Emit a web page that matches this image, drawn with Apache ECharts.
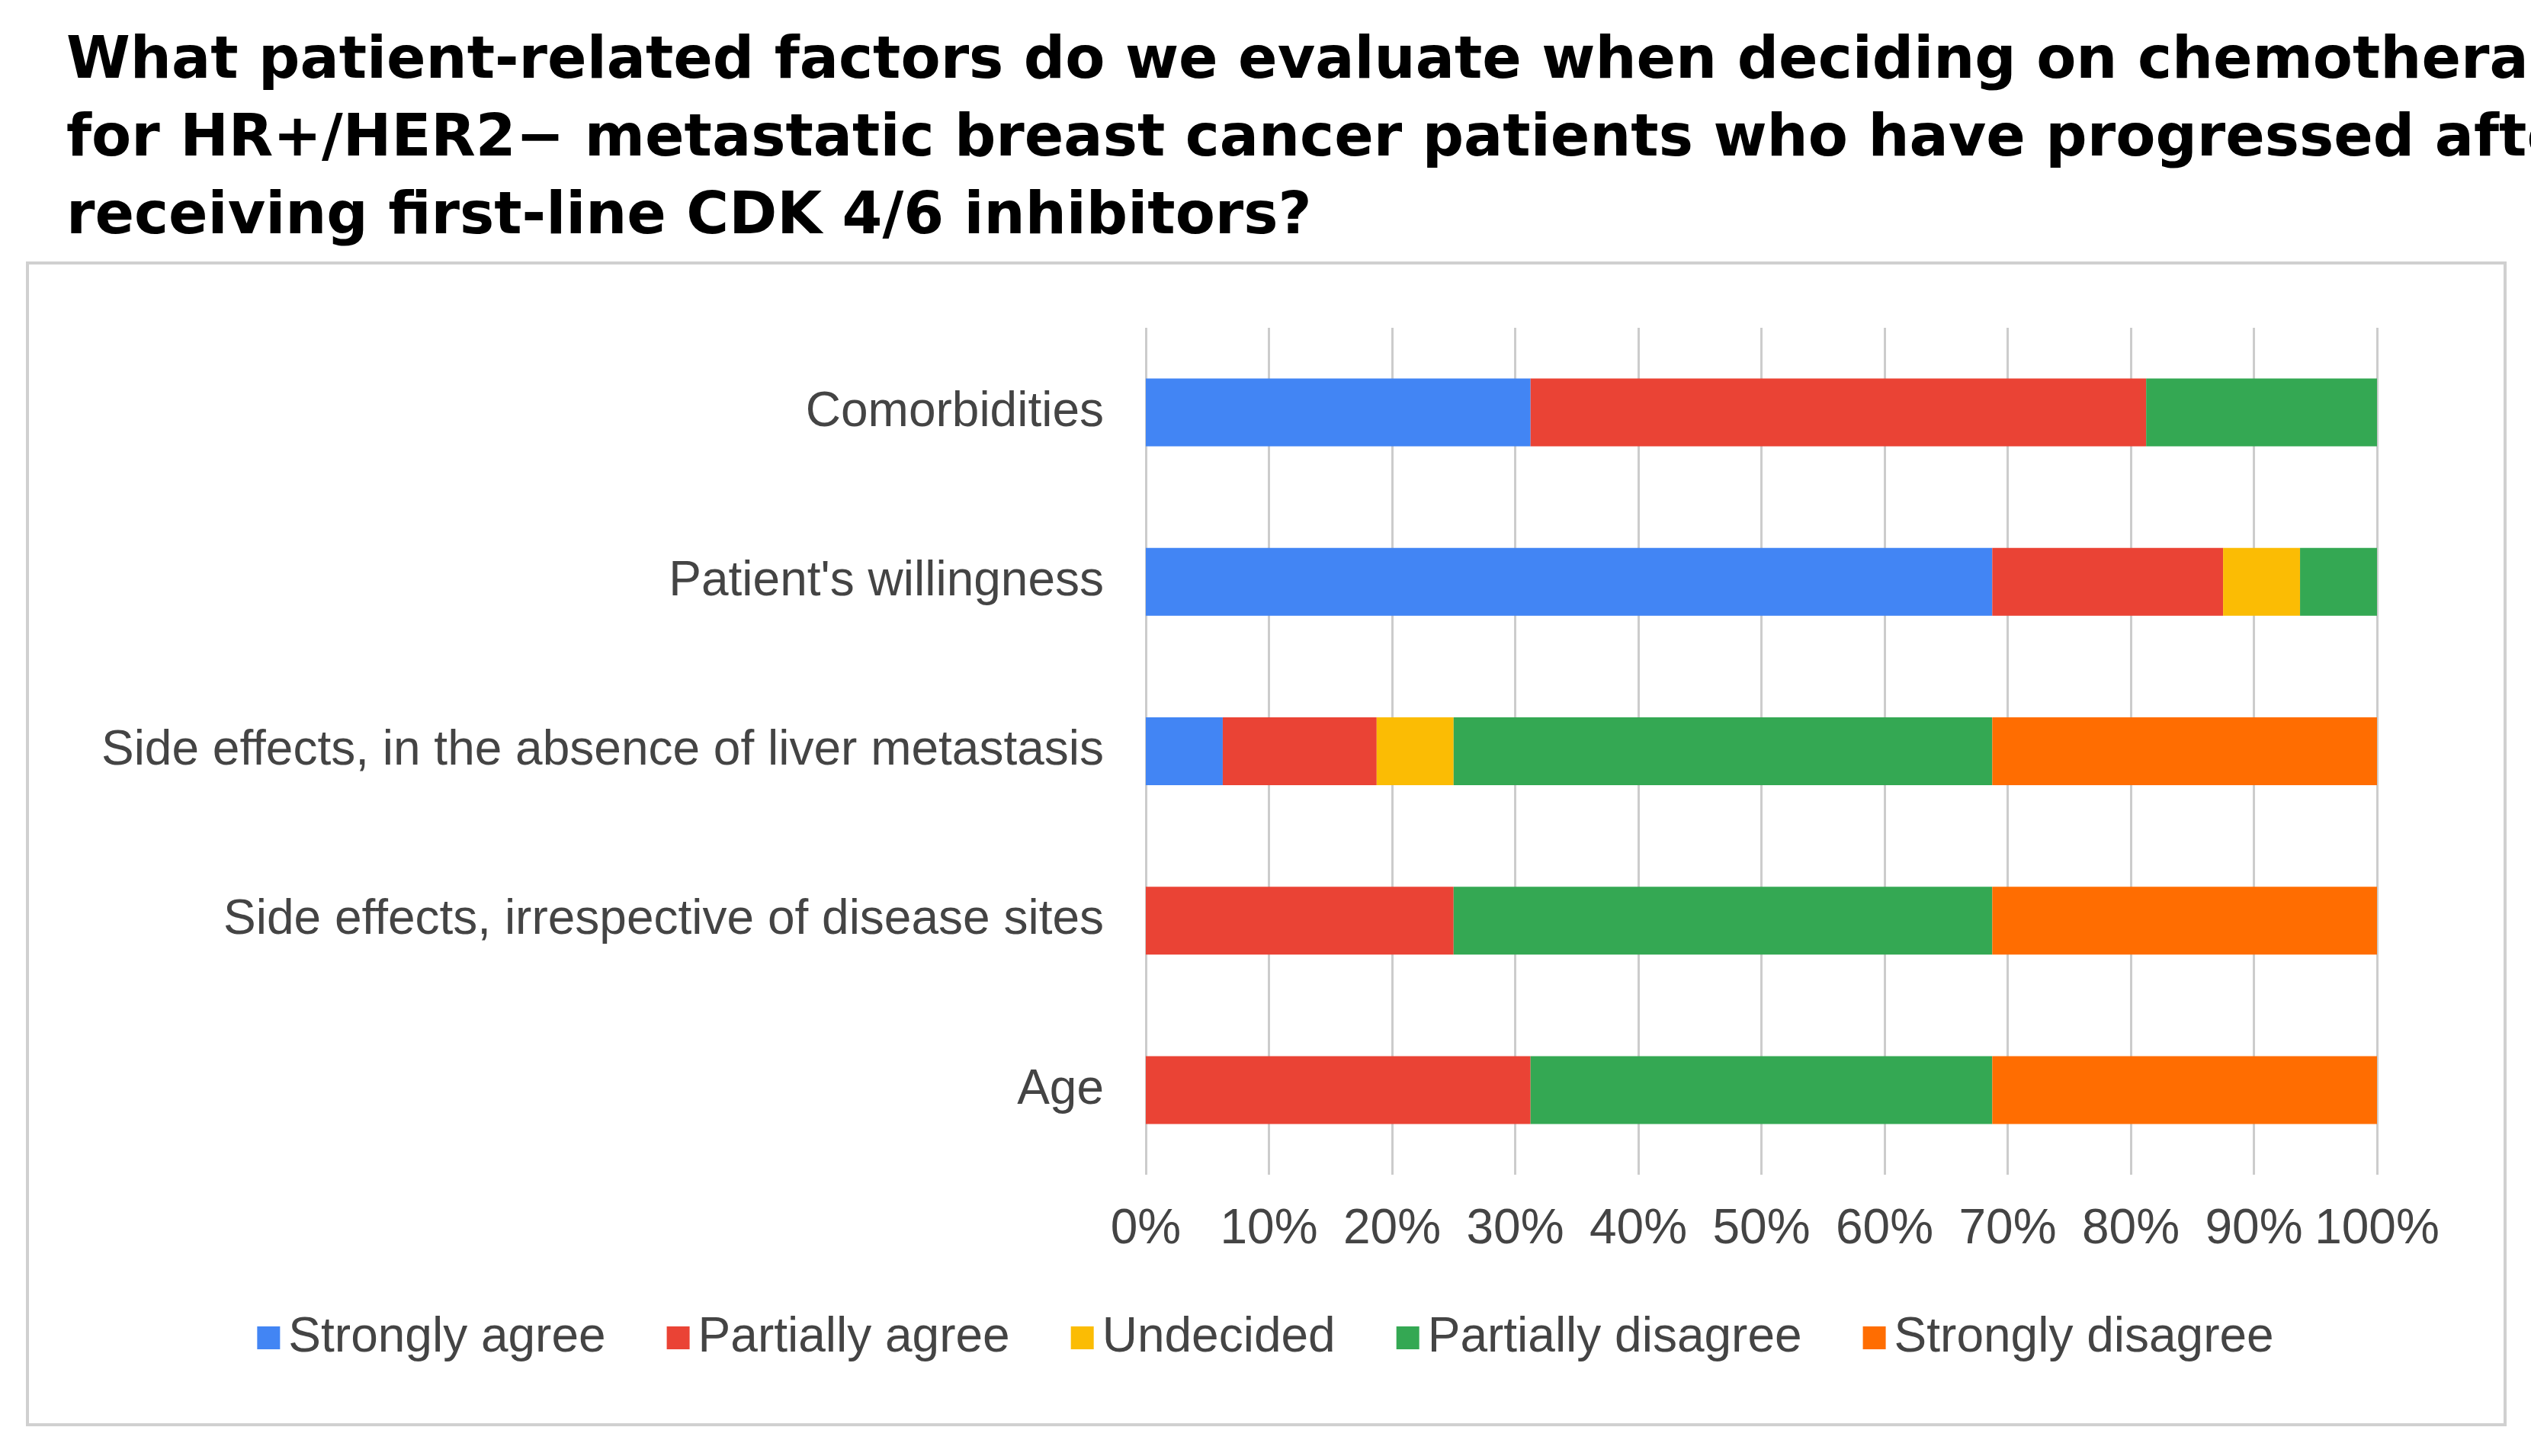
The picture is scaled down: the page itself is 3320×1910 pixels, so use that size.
<!DOCTYPE html>
<html><head><meta charset="utf-8">
<script src="https://cdn.jsdelivr.net/npm/echarts@6/dist/echarts.min.js"></script>
<style>html,body{margin:0;padding:0;background:#fff}#c{width:3320px;height:1910px}</style>
</head><body><div id="c"></div>
<script>
var categories = ['Comorbidities', "Patient's willingness", 'Side effects, in the absence of liver metastasis', 'Side effects, irrespective of disease sites', 'Age'];
var seriesNames = ['Strongly agree', 'Partially agree', 'Undecided', 'Partially disagree', 'Strongly disagree'];
var stronglyAgree = [31.25, 68.75, 6.25, 0, 0];
var partiallyAgree = [50, 18.75, 12.5, 25, 31.25];
var undecided = [0, 6.25, 6.25, 0, 0];
var partiallyDisagree = [18.75, 6.25, 43.75, 43.75, 37.5];
var stronglyDisagree = [0, 0, 31.25, 31.25, 31.25];
var colors = ['#4285F4', '#EA4335', '#FBBC04', '#34A853', '#FF6D01'];
var values = [stronglyAgree, partiallyAgree, undecided, partiallyDisagree, stronglyDisagree];

var chart = echarts.init(document.getElementById('c'));
chart.setOption({
    color: colors,
    animation: false,
    title: {
        text: 'What patient-related factors do we evaluate when deciding on chemotherapy\nfor HR+/HER2\u2212 metastatic breast cancer patients who have progressed after\nreceiving first-line CDK 4/6 inhibitors?',
        left: 82, top: 26,
        textStyle: {fontFamily: 'DejaVu Sans', fontWeight: 'bold', fontSize: 76, lineHeight: 102, color: '#000'}
    },
    graphic: [{
        type: 'rect', shape: {x: 36, y: 345, width: 3250, height: 1524},
        style: {fill: 'none', stroke: '#d0d0d0', lineWidth: 4}, z: -1
    }],
    legend: {
        bottom: 118, left: 'center', itemWidth: 30, itemHeight: 30, itemGap: 80,
        icon: 'rect',
        textStyle: {fontFamily: 'Liberation Sans', fontSize: 64, color: '#444', padding: [0, 0, 0, 6]},
        data: seriesNames
    },
    grid: {left: 1503, right: 202, top: 430, bottom: 369},
    xAxis: {
        type: 'value', min: 0, max: 100, interval: 10,
        axisLabel: {formatter: '{value}%', fontFamily: 'Liberation Sans', fontSize: 64, color: '#444', margin: 40},
        splitLine: {lineStyle: {color: '#ccc', width: 3}},
        axisLine: {show: false}, axisTick: {show: false}
    },
    yAxis: {
        type: 'category', inverse: true, data: categories,
        axisLabel: {fontFamily: 'Liberation Sans', fontSize: 64, color: '#444', margin: 55},
        axisLine: {show: false}, axisTick: {show: false}
    },
    series: seriesNames.map(function (n, i) {
        return {name: n, type: 'bar', stack: 'all', barWidth: 89, data: values[i]};
    })
});
</script></body></html>
